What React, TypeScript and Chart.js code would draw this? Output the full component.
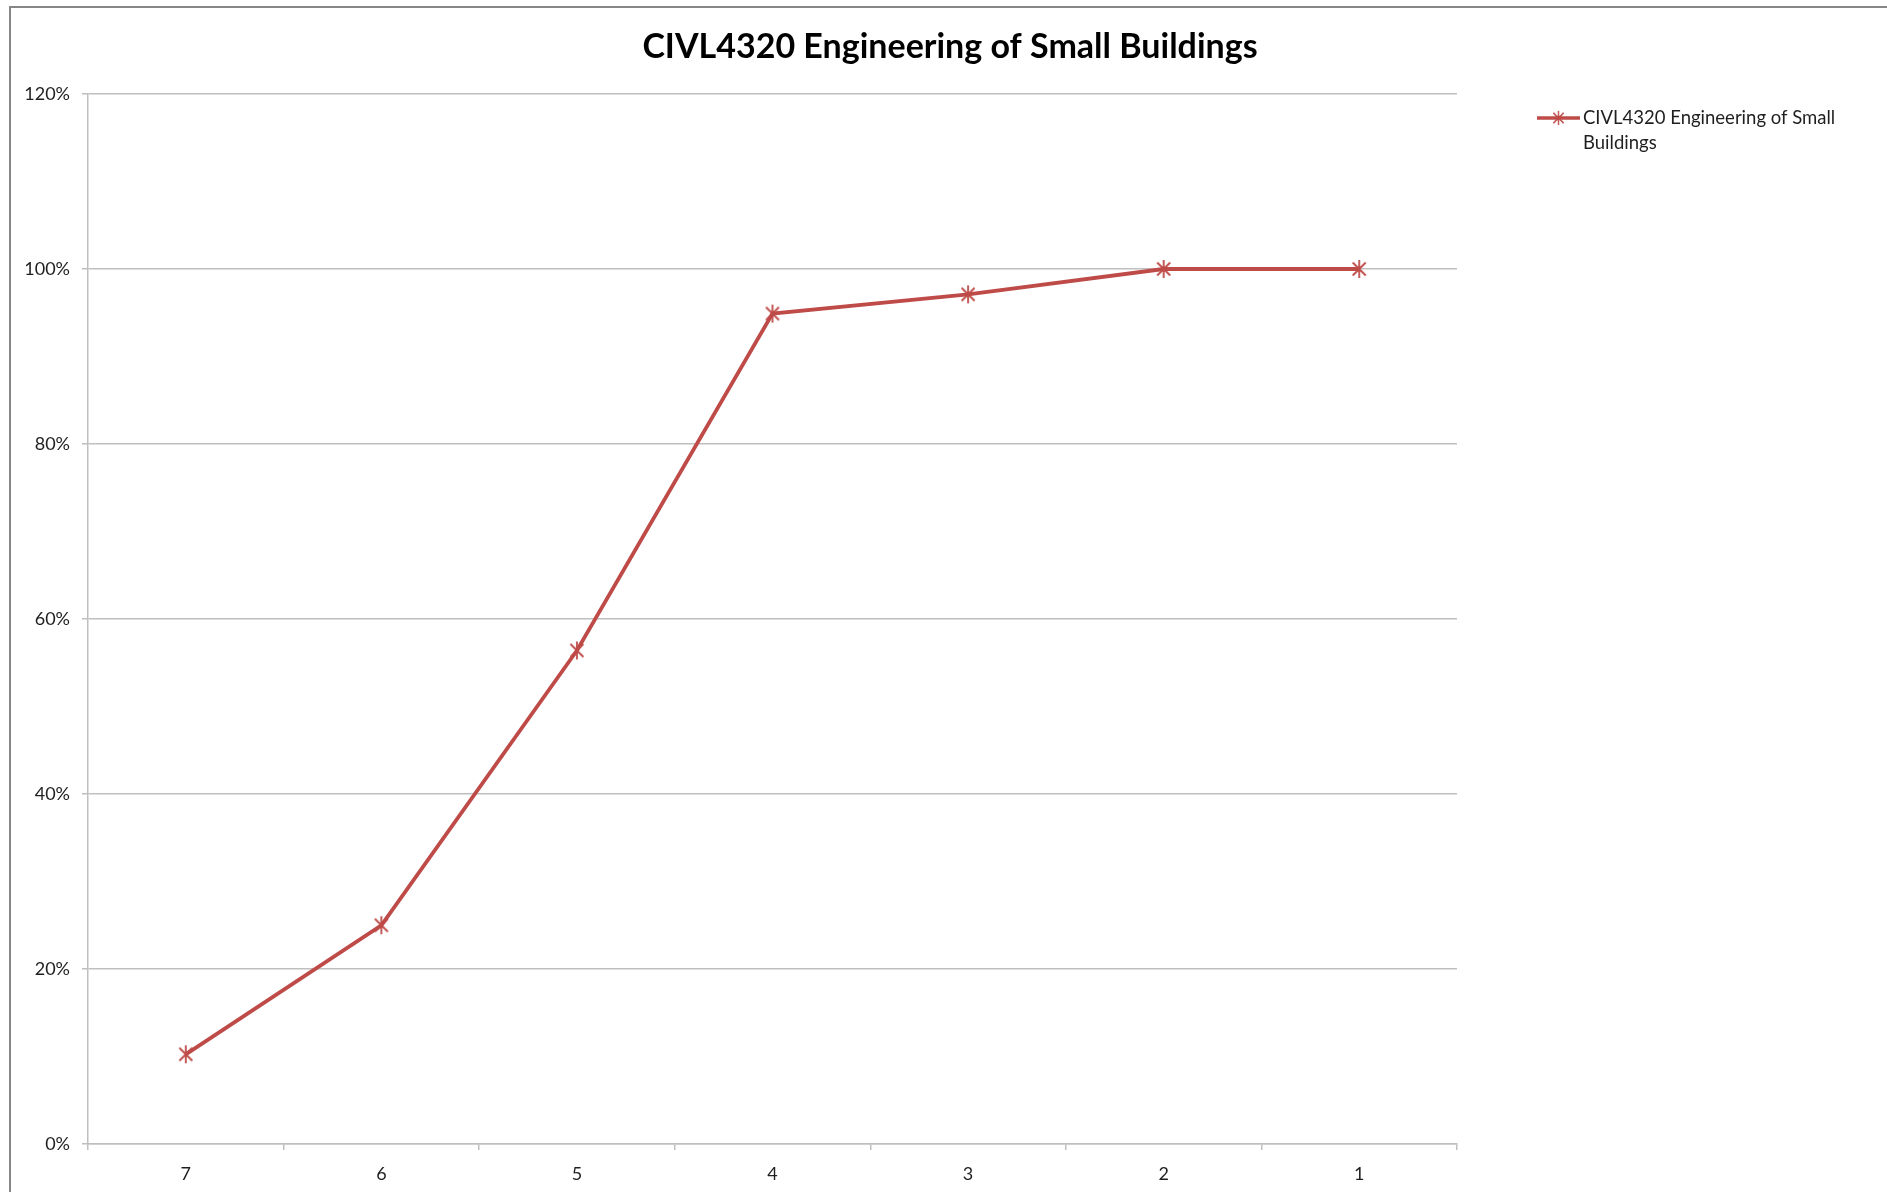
import React, { useEffect, useRef } from "react";
import { Chart, registerables } from "chart.js";

Chart.register(...registerables);

const categories: string[] = ["7", "6", "5", "4", "3", "2", "1"];
const seriesName = "CIVL4320 Engineering of Small Buildings";
const seriesValues: number[] = [0.1025, 0.25, 0.564, 0.949, 0.971, 1.0, 1.0];
const yTickValues: number[] = [0, 0.2, 0.4, 0.6, 0.8, 1.0, 1.2];
const legendLines: string[] = ["CIVL4320 Engineering of Small", "Buildings"];
const chartTitle = "CIVL4320 Engineering of Small Buildings";

const RED = "#BE4B48";
const GRID = "#BFBFBF";
const TEXT = "#1f1f1f";
const FONT = "Lato, 'Open Sans', sans-serif";

function makeStar(): HTMLCanvasElement {
  const c = document.createElement("canvas");
  c.width = 20;
  c.height = 20;
  const g = c.getContext("2d")!;
  g.strokeStyle = RED;
  g.lineWidth = 1.8;
  g.beginPath();
  g.moveTo(10, 1);
  g.lineTo(10, 19);
  g.moveTo(3.5, 3.5);
  g.lineTo(16.5, 16.5);
  g.moveTo(16.5, 3.5);
  g.lineTo(3.5, 16.5);
  g.stroke();
  return c;
}

export default function App() {
  const ref = useRef<HTMLCanvasElement | null>(null);

  useEffect(() => {
    if (!ref.current) return;
    const star = makeStar();

    const framePlugin = {
      id: "frame",
      beforeDraw(chart: any) {
        const ctx = chart.ctx;
        ctx.save();
        ctx.fillStyle = "#ffffff";
        ctx.fillRect(0, 0, chart.width, chart.height);
        ctx.strokeStyle = "#868686";
        ctx.lineWidth = 2;
        ctx.beginPath();
        ctx.moveTo(10, chart.height);
        ctx.lineTo(10, 7);
        ctx.lineTo(chart.width, 7);
        ctx.stroke();
        ctx.restore();
      },
      afterDraw(chart: any) {
        const ctx = chart.ctx;
        const area = chart.chartArea;
        ctx.save();
        // title
        ctx.fillStyle = "#000";
        ctx.font = `bold 34px ${FONT}`;
        ctx.textAlign = "center";
        ctx.textBaseline = "middle";
        ctx.fillText(chartTitle, 950, 47);
        // legend
        const lx0 = area.right + 80;
        const lx1 = lx0 + 43;
        const ly = 118;
        ctx.strokeStyle = RED;
        ctx.lineWidth = 3.5;
        ctx.beginPath();
        ctx.moveTo(lx0, ly);
        ctx.lineTo(lx1, ly);
        ctx.stroke();
        ctx.drawImage(star, (lx0 + lx1) / 2 - 8, ly - 8, 16, 16);
        ctx.fillStyle = TEXT;
        ctx.font = `18.5px ${FONT}`;
        ctx.textBaseline = "middle";
        ctx.textAlign = "left";
        legendLines.forEach((t, i) => ctx.fillText(t, lx1 + 3, ly + i * 25));
        ctx.restore();
      },
    };

    const chart = new Chart(ref.current, {
      type: "line",
      data: {
        labels: categories,
        datasets: [
          {
            label: seriesName,
            data: seriesValues,
            borderColor: RED,
            backgroundColor: RED,
            borderWidth: 3.8,
            pointStyle: star as any,
            pointRadius: 9,
            tension: 0,
          },
        ],
      },
      options: {
        responsive: false,
        animation: false,
        devicePixelRatio: 1,
        layout: { padding: { left: 0, right: 430, top: 94, bottom: 0 } },
        plugins: {
          legend: { display: false },
          tooltip: { enabled: false },
          title: { display: false },
        },
        scales: {
          x: {
            type: "category",
            offset: true,
            grid: {
              offset: true,
              drawOnChartArea: false,
              drawTicks: true,
              tickLength: 6,
              color: GRID,
              lineWidth: 1.5,
            },
            border: { display: true, color: GRID, width: 1.5 },
            ticks: {
              color: TEXT,
              font: { family: FONT, size: 18 },
              padding: 13,
              maxRotation: 0,
            },
            afterFit(scale: any) {
              scale.height = 48;
            },
          },
          y: {
            min: 0,
            max: 1.2,
            afterBuildTicks(scale: any) {
              scale.ticks = yTickValues.map((v) => ({ value: v }));
            },
            grid: {
              color: GRID,
              lineWidth: 1.5,
              drawTicks: true,
              tickLength: 6,
            },
            border: { display: true, color: GRID, width: 1.5 },
            ticks: {
              color: TEXT,
              font: { family: FONT, size: 18 },
              padding: 12,
              callback: (v: any) => `${Math.round(Number(v) * 100)}%`,
            },
            afterFit(scale: any) {
              scale.width = 88;
            },
          },
        },
      },
      plugins: [framePlugin],
    });

    return () => chart.destroy();
  }, []);

  return (
    <canvas
      ref={ref}
      width={1887}
      height={1192}
      style={{ position: "fixed", left: 0, top: 0, width: 1887, height: 1192 }}
    />
  );
}
